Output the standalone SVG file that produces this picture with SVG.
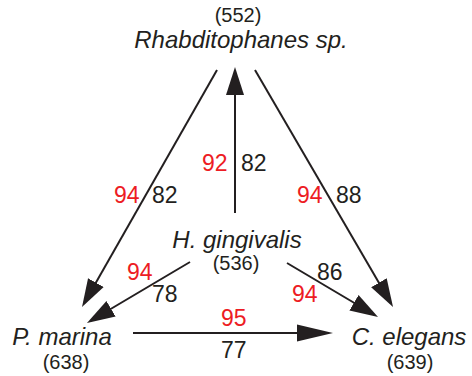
<svg xmlns="http://www.w3.org/2000/svg" width="472" height="376" viewBox="0 0 472 376">
  <style>
    .sp { font-family: "Liberation Sans", Arial, sans-serif; font-style: italic; font-size: 24px; fill: #231f20; text-anchor: middle; }
    .n { font-family: "Liberation Sans", Arial, sans-serif; font-size: 20px; fill: #231f20; text-anchor: middle; }
    .lb { font-family: "Liberation Sans", Arial, sans-serif; font-size: 23px; fill: #231f20; }
    .red { fill: #ed1c24; }
    .edge { stroke: #231f20; stroke-width: 2; fill: none; }
  </style>
  <defs>
    <marker id="head" markerUnits="userSpaceOnUse" markerWidth="30" markerHeight="20" viewBox="0 -10 30 20" refX="24" refY="0" orient="auto">
      <path d="M0,-9 L28,0 L0,9 z" fill="#231f20"/>
    </marker>
    <marker id="headLong" markerUnits="userSpaceOnUse" markerWidth="40" markerHeight="20" viewBox="0 -10 40 20" refX="32" refY="0" orient="auto">
      <path d="M0,-8.5 L36,0 L0,8.5 z" fill="#231f20"/>
    </marker>
  </defs>

  <g id="connectors">
    <!-- Rhabditophanes -> P. marina -->
    <line class="edge" x1="217" y1="70" x2="84" y2="303.5" marker-end="url(#head)"/>
    <!-- Rhabditophanes -> C. elegans -->
    <line class="edge" x1="255" y1="70" x2="391" y2="303.5" marker-end="url(#head)"/>
    <!-- H. gingivalis -> Rhabditophanes -->
    <line class="edge" x1="235" y1="213" x2="235" y2="71" marker-end="url(#head)"/>
    <!-- H. gingivalis -> P. marina -->
    <line class="edge" x1="190" y1="262" x2="90.4" y2="321" marker-end="url(#head)"/>
    <!-- H. gingivalis -> C. elegans -->
    <line class="edge" x1="287" y1="263" x2="374.6" y2="315" marker-end="url(#head)"/>
    <!-- P. marina -> C. elegans -->
    <line class="edge" x1="133" y1="333" x2="329" y2="333" marker-end="url(#headLong)"/>
  </g>

  <g id="rhabditophanes">
    <text class="n" x="238" y="22">(552)</text>
    <text class="sp" x="241" y="48">Rhabditophanes sp.</text>
  </g>
  <g id="hgingivalis">
    <text class="sp" x="237" y="248">H. gingivalis</text>
    <text class="n" x="236" y="270">(536)</text>
  </g>
  <g id="pmarina">
    <text class="sp" x="62" y="345">P. marina</text>
    <text class="n" x="66" y="369">(638)</text>
  </g>
  <g id="celegans">
    <text class="sp" x="409" y="345">C. elegans</text>
    <text class="n" x="410" y="369">(639)</text>
  </g>

  <g id="support-values">
    <text class="lb red" x="202" y="171">92</text>
    <text class="lb" x="241" y="171">82</text>
    <text class="lb red" x="114" y="203">94</text>
    <text class="lb" x="152" y="203">82</text>
    <text class="lb red" x="297" y="203">94</text>
    <text class="lb" x="336" y="203">88</text>
    <text class="lb red" x="127" y="280">94</text>
    <text class="lb" x="152" y="302">78</text>
    <text class="lb" x="317" y="280">86</text>
    <text class="lb red" x="292" y="302">94</text>
    <text class="lb red" x="221" y="326">95</text>
    <text class="lb" x="221" y="358">77</text>
  </g>
</svg>
